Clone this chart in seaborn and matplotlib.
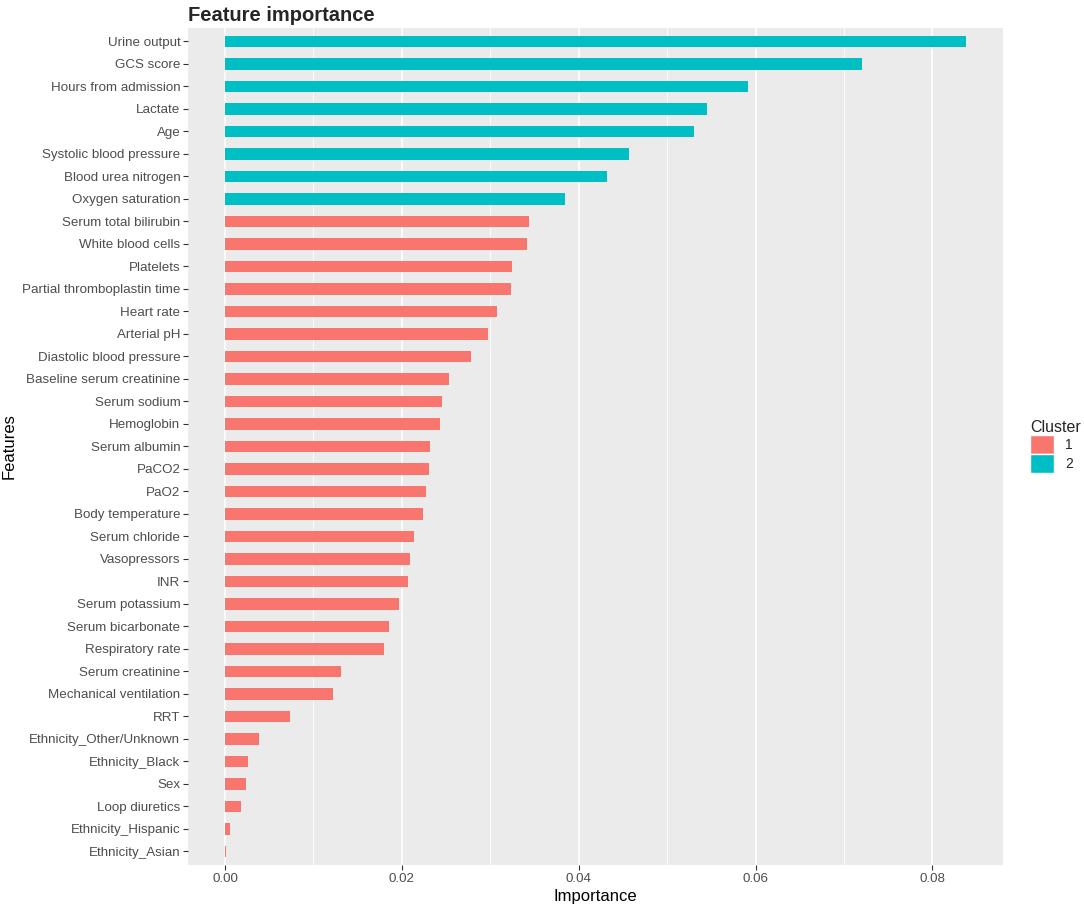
import numpy as np
import pandas as pd
import seaborn as sns
import matplotlib.pyplot as plt
from matplotlib.patches import Patch
from matplotlib.ticker import MultipleLocator, FormatStrFormatter

features = ["Urine output", "GCS score", "Hours from admission", "Lactate", "Age",
            "Systolic blood pressure", "Blood urea nitrogen", "Oxygen saturation",
            "Serum total bilirubin", "White blood cells", "Platelets",
            "Partial thromboplastin time", "Heart rate", "Arterial pH",
            "Diastolic blood pressure", "Baseline serum creatinine", "Serum sodium",
            "Hemoglobin", "Serum albumin", "PaCO2", "PaO2", "Body temperature",
            "Serum chloride", "Vasopressors", "INR", "Serum potassium",
            "Serum bicarbonate", "Respiratory rate", "Serum creatinine",
            "Mechanical ventilation", "RRT", "Ethnicity_Other/Unknown",
            "Ethnicity_Black", "Sex", "Loop diuretics", "Ethnicity_Hispanic",
            "Ethnicity_Asian"]
importance = [0.0838, 0.0720, 0.0591, 0.0545, 0.0530, 0.0457, 0.0432, 0.0384,
              0.0344, 0.0341, 0.0325, 0.0323, 0.0308, 0.0297, 0.0278, 0.0253,
              0.0245, 0.0243, 0.0232, 0.0231, 0.0227, 0.0224, 0.0214, 0.0209,
              0.0207, 0.0197, 0.0185, 0.0180, 0.0131, 0.0122, 0.0073, 0.0038,
              0.0026, 0.0024, 0.0018, 0.0006, 0.0001]
cluster = ["2"] * 8 + ["1"] * 29
cluster_colors = {"1": "#F8766D", "2": "#00BFC4"}

df = pd.DataFrame({"Features": features, "Importance": importance, "Cluster": cluster})

sns.set_style("darkgrid", {"axes.facecolor": "#EBEBEB", "grid.color": "white"})
plt.rcParams['font.family'] = ['Liberation Sans', 'DejaVu Sans']

fig = plt.figure(figsize=(10.84, 9.08), dpi=100)
ax = fig.add_axes([0.1734, 0.0474, 0.9253 - 0.1734, 0.9692 - 0.0474])

sns.barplot(data=df, x="Importance", y="Features", hue="Cluster", order=features,
            palette=cluster_colors, dodge=False, width=0.5, orient="h",
            saturation=1, edgecolor="none", legend=False, ax=ax)

ax.set_xlim(-0.0042, 0.0880)
ax.set_ylim(len(features) - 0.4, -0.6)
ax.xaxis.set_major_locator(MultipleLocator(0.02))
ax.xaxis.set_minor_locator(MultipleLocator(0.01))
ax.xaxis.set_major_formatter(FormatStrFormatter("%.2f"))
ax.grid(False)
ax.grid(True, axis="x", which="major", color="white", linewidth=1.1)
ax.grid(True, axis="x", which="minor", color="white", linewidth=0.55)
ax.set_axisbelow(True)
for s in ax.spines.values():
    s.set_visible(False)

ax.tick_params(axis="both", which="major", length=3.5, width=0.8, color="#333333",
               labelsize=9.6, labelcolor="#4D4D4D", pad=2, bottom=True, left=True)
ax.tick_params(axis="x", which="minor", length=0)

ax.set_xlabel("Importance", fontsize=12, color="black", labelpad=3)
ax.set_ylabel("Features", fontsize=12, color="black")
ax.yaxis.set_label_coords(-0.210, 0.5)
ax.set_title("Feature importance", fontsize=14.5, fontweight="bold", loc="left", pad=5)
ax.title.set_position((-0.003, 1.0))

handles = [Patch(facecolor=cluster_colors[k], edgecolor="white", linewidth=1, label=k)
           for k in ["1", "2"]]
leg = ax.legend(handles=handles, title="Cluster", loc="center left",
                bbox_to_anchor=(1.026, 0.50), frameon=False, fontsize=10,
                title_fontsize=11.5, handlelength=1.75, handleheight=1.75,
                labelspacing=0.0, handletextpad=0.8, borderaxespad=0)
leg._legend_box.align = "left"

fig.savefig("out.png", dpi=100)
